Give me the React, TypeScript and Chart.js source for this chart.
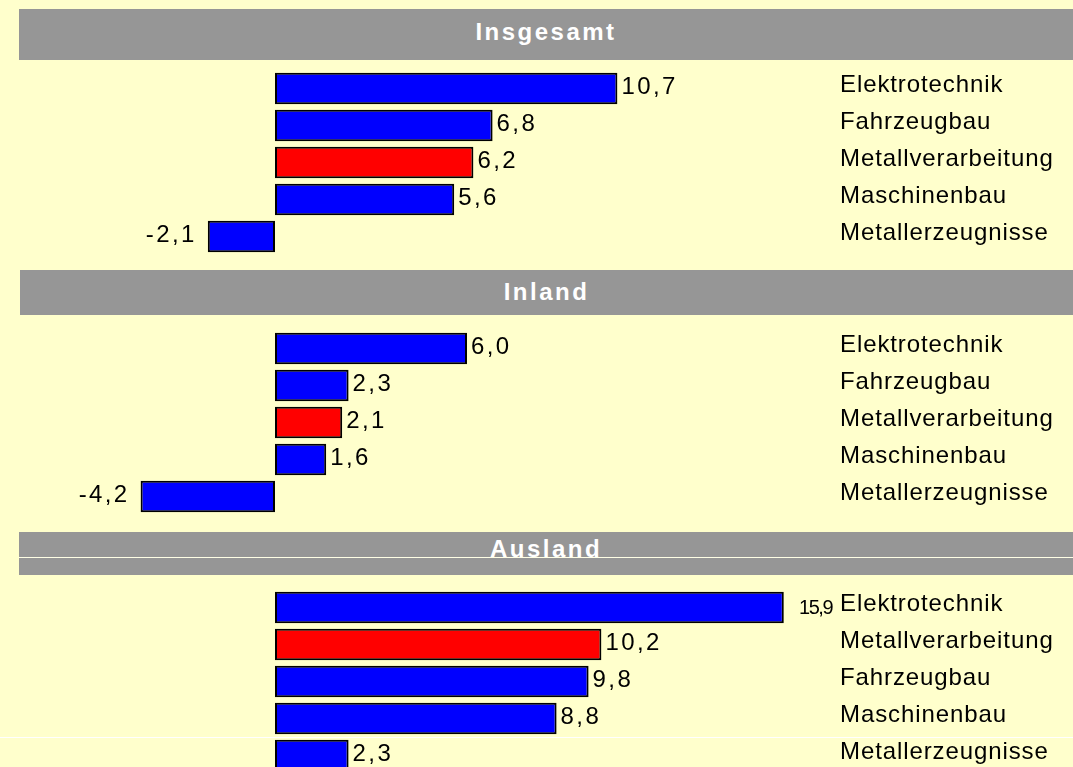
import React, { useEffect, useRef } from "react";
import { Chart, registerables } from "chart.js";

Chart.register(...registerables);

const SECTION_TITLES = ["Insgesamt", "Inland", "Ausland"];

const CATEGORIES_INSGESAMT = ["Elektrotechnik", "Fahrzeugbau", "Metallverarbeitung", "Maschinenbau", "Metallerzeugnisse"];
const VALUES_INSGESAMT = [10.7, 6.8, 6.2, 5.6, -2.1];

const CATEGORIES_INLAND = ["Elektrotechnik", "Fahrzeugbau", "Metallverarbeitung", "Maschinenbau", "Metallerzeugnisse"];
const VALUES_INLAND = [6.0, 2.3, 2.1, 1.6, -4.2];

const CATEGORIES_AUSLAND = ["Elektrotechnik", "Metallverarbeitung", "Fahrzeugbau", "Maschinenbau", "Metallerzeugnisse"];
const VALUES_AUSLAND = [15.9, 10.2, 9.8, 8.8, 2.3];

const HIGHLIGHT_CATEGORY = "Metallverarbeitung";

const W = 1073;
const H = 767;
const ZERO_PX = 275;
const PX_PER_UNIT = 32;
const ROW_H = 37;
const LABEL_X = 840;
const FONT = '"Liberation Sans", Arial, sans-serif';

const fmt = (v: number) => v.toFixed(1).replace(".", ",");

const labelPlugin = {
  id: "sectionLabels",
  afterDatasetsDraw(chart: any) {
    const ctx: CanvasRenderingContext2D = chart.ctx;
    const meta = chart.getDatasetMeta(0);
    const values: number[] = chart.data.datasets[0].data;
    const labels: string[] = chart.data.labels;
    ctx.save();
    ctx.fillStyle = "#000";
    ctx.textBaseline = "middle";
    meta.data.forEach((el: any, i: number) => {
      const v = values[i];
      const y = el.y;
      const txt = fmt(v);
      // value label
      ctx.font = `24px ${FONT}`;
      (ctx as any).letterSpacing = "2.4px";
      const w = ctx.measureText(txt).width;
      if (v >= 0) {
        const x = el.x + 4;
        if (x + w > LABEL_X - 4) {
          ctx.font = `20px ${FONT}`;
          (ctx as any).letterSpacing = "-1.5px";
          ctx.textAlign = "right";
          ctx.fillText(txt, LABEL_X - 8, y + 1);
        } else {
          ctx.textAlign = "left";
          ctx.fillText(txt, x, y - 1);
        }
      } else {
        ctx.textAlign = "right";
        ctx.fillText(txt, el.x - 11, y - 1);
      }
      // category label
      ctx.font = `24px ${FONT}`;
      (ctx as any).letterSpacing = "0.9px";
      ctx.textAlign = "left";
      ctx.fillText(labels[i], LABEL_X, y - 3);
    });
    (ctx as any).letterSpacing = "0px";
    ctx.restore();
  },
};

function Section({ labels, values, top }: { labels: string[]; values: number[]; top: number }) {
  const ref = useRef<HTMLCanvasElement | null>(null);
  useEffect(() => {
    if (!ref.current) return;
    const chart = new Chart(ref.current, {
      type: "bar",
      data: {
        labels,
        datasets: [
          {
            data: values,
            backgroundColor: labels.map((c) => (c === HIGHLIGHT_CATEGORY ? "#FF0000" : "#0000FF")),
            borderColor: "#000000",
            borderWidth: 2,
            borderSkipped: false,
            barPercentage: 0.85,
            categoryPercentage: 1,
          },
        ],
      },
      options: {
        indexAxis: "y",
        responsive: false,
        maintainAspectRatio: false,
        animation: false,
        devicePixelRatio: 1,
        layout: { padding: 0 },
        scales: {
          x: { type: "linear", min: -ZERO_PX / PX_PER_UNIT, max: (W - ZERO_PX) / PX_PER_UNIT, display: false },
          y: { type: "category", display: false, offset: true },
        },
        plugins: { legend: { display: false }, tooltip: { enabled: false } },
      } as any,
      plugins: [labelPlugin],
    });
    return () => chart.destroy();
  }, []);
  return (
    <canvas
      ref={ref}
      width={W}
      height={labels.length * ROW_H}
      style={{ position: "absolute", left: 0, top, width: W, height: labels.length * ROW_H }}
    />
  );
}

function Header({ title, left, top, height, baseline }: { title: string; left: number; top: number; height: number; baseline: number }) {
  return (
    <>
      <div style={{ position: "absolute", left, top, width: W - left, height, background: "#969696" }} />
      <div
        style={{
          position: "absolute",
          left,
          width: W - left,
          top: baseline - 20,
          lineHeight: "24px",
          fontSize: 24,
          fontWeight: "bold",
          fontFamily: FONT,
          color: "#FFFFFF",
          textAlign: "center",
          letterSpacing: "2.5px",
          whiteSpace: "nowrap",
        }}
      >
        {title}
      </div>
    </>
  );
}

export default function App() {
  return (
    <div style={{ position: "absolute", left: 0, top: 0, width: W, height: H, overflow: "hidden", background: "#FFFFCC" }}>
      <Header title={SECTION_TITLES[0]} left={19} top={9} height={51} baseline={40} />
      <Header title={SECTION_TITLES[1]} left={20} top={270} height={45} baseline={300} />
      <Header title={SECTION_TITLES[2]} left={19} top={532} height={43} baseline={557} />
      <div style={{ position: "absolute", left: 19, top: 557, width: W - 19, height: 1, background: "#FFFFE6" }} />
      <div style={{ position: "absolute", left: 0, top: 737, width: W, height: 1, background: "#FFFFFF" }} />
      <Section labels={CATEGORIES_INSGESAMT} values={VALUES_INSGESAMT} top={70} />
      <Section labels={CATEGORIES_INLAND} values={VALUES_INLAND} top={330} />
      <Section labels={CATEGORIES_AUSLAND} values={VALUES_AUSLAND} top={589} />
    </div>
  );
}
